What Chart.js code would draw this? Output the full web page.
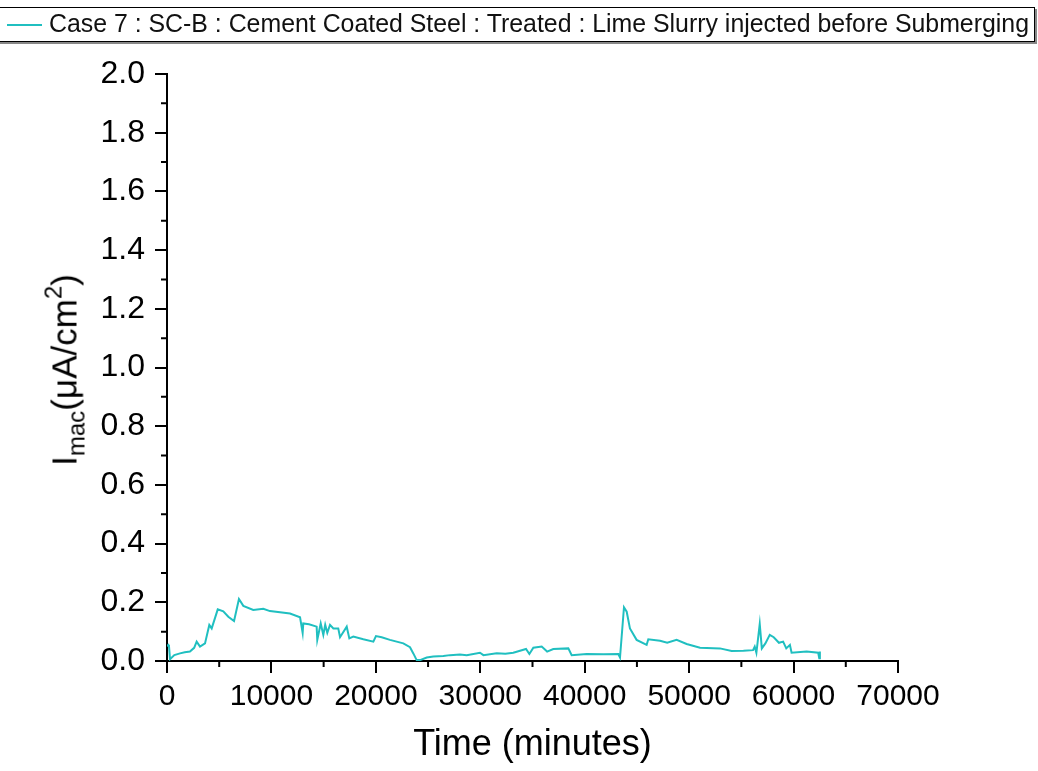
<!DOCTYPE html>
<html>
<head>
<meta charset="utf-8">
<script src="https://cdn.jsdelivr.net/npm/chart.js@4"></script>
<style>
  body { margin: 0; background: #fff; font-family: "Liberation Sans", Arial, sans-serif; }
  #wrap { position: relative; width: 1038px; height: 771px; overflow: hidden; }
  #chart { position: absolute; left: 0; top: 0; }
  #legend {
    position: absolute; left: -10px; top: 7px; width: 1043px; height: 33px;
    border: 1px solid #000; box-shadow: 2px 2px 0 #888; background: #fff;
    white-space: nowrap;
  }
  #legend .swatch { position: absolute; left: 16px; top: 16px; width: 35px; height: 2px; background: #20BFC0; }
  #legend .text { position: absolute; left: 58px; top: 1px; font-size: 25px; color: #111; transform-origin: 0 0; }
  #ytitle {
    position: absolute; left: 65px; top: 370px; font-size: 35px; color: #000;
    transform: translate(-50%, -50%) rotate(-90deg); white-space: nowrap;
  }
  #ytitle sub { font-size: 24px; vertical-align: -8px; }
  #ytitle sup { font-size: 24px; vertical-align: 15px; }
</style>
</head>
<body>
<div id="wrap">
  <canvas id="chart" width="1038" height="771"></canvas>
  <div id="legend"><div class="swatch"></div><div class="text" id="legendText">Case 7 : SC-B : Cement Coated Steel : Treated : Lime Slurry injected before Submerging</div></div>
  <div id="ytitle">I<sub>mac</sub>(μA/cm<sup>2</sup>)</div>
</div>
<script>
// time in minutes, current in uA/cm2
const timeMin = [0, 120, 190, 290, 700, 1245, 1700, 2200, 2600, 2840, 3160, 3640, 4050, 4280, 4860, 5390, 5870, 6420, 6890, 7310,
  8260, 9220, 9860, 11780, 12740, 12990, 13050, 13600, 14330, 14390, 14720, 14970, 15150, 15350, 15610, 15930,
  16400, 16570, 17210, 17460, 17840, 18800, 19760, 20010, 20560, 21350, 22630, 23270, 23600, 23910, 24230, 24870,
  25500, 26460, 27100, 28050, 28700, 29970, 30300, 31570, 32400, 33160, 34380, 34700, 35080, 35880, 36400, 36990,
  38430, 38750, 40190, 41800, 43220, 43380, 43760, 44020, 44330, 44970, 45930, 46090, 47210, 47900, 48800, 49760,
  51040, 52950, 54070, 55200, 56120, 56280, 56440, 56760, 56960, 57300, 57720, 58100, 58600, 59000, 59300, 59650,
  59810, 61250, 62360, 62460, 62520];
const currentUA = [0.05, 0.055, 0.051, 0.006, 0.02, 0.026, 0.03, 0.032, 0.045, 0.066, 0.049, 0.06, 0.123, 0.111, 0.176, 0.169, 0.151, 0.136, 0.211, 0.188,
  0.174, 0.178, 0.170, 0.162, 0.149, 0.096, 0.128, 0.125, 0.117, 0.072, 0.128, 0.089, 0.123, 0.096, 0.123, 0.111,
  0.111, 0.081, 0.117, 0.077, 0.083, 0.074, 0.066, 0.085, 0.081, 0.072, 0.060, 0.047, 0.025, 0.003, 0.003, 0.012,
  0.015, 0.017, 0.02, 0.022, 0.02, 0.028, 0.02, 0.026, 0.025, 0.028, 0.041, 0.024, 0.045, 0.049, 0.032, 0.041,
  0.043, 0.02, 0.024, 0.023, 0.024, 0.012, 0.183, 0.168, 0.111, 0.072, 0.055, 0.074, 0.069, 0.062, 0.072, 0.058,
  0.045, 0.043, 0.034, 0.035, 0.037, 0.049, 0.028, 0.126, 0.043, 0.06, 0.089, 0.081, 0.062, 0.066, 0.043, 0.055,
  0.028, 0.032, 0.028, 0.009, 0.032];
const seriesLabel = 'Case 7 : SC-B : Cement Coated Steel : Treated : Lime Slurry injected before Submerging';
const xTickValues = [0, 10000, 20000, 30000, 40000, 50000, 60000, 70000];
const yTickValues = [0.0, 0.2, 0.4, 0.6, 0.8, 1.0, 1.2, 1.4, 1.6, 1.8, 2.0];

// squeeze legend text to fit its box
const lt = document.getElementById('legendText');
const want = 980;
const have = lt.getBoundingClientRect().width;
lt.style.transform = 'scaleX(' + (want / have) + ')';

const points = timeMin.map((t, i) => ({ x: t, y: currentUA[i] }));

const minorTicks = {
  id: 'minorTicks',
  afterDraw(chart) {
    const ctx = chart.ctx;
    const xs = chart.scales.x, ys = chart.scales.y;
    ctx.save();
    ctx.strokeStyle = '#000';
    ctx.lineWidth = 2;
    ctx.beginPath();
    for (let v = 5000; v < 70000; v += 10000) {
      const px = xs.getPixelForValue(v);
      ctx.moveTo(px, chart.chartArea.bottom);
      ctx.lineTo(px, chart.chartArea.bottom + 6);
    }
    for (let v = 0.1; v < 2.0; v += 0.2) {
      const py = ys.getPixelForValue(v);
      ctx.moveTo(chart.chartArea.left, py);
      ctx.lineTo(chart.chartArea.left - 6, py);
    }
    ctx.stroke();
    ctx.restore();
  }
};

new Chart(document.getElementById('chart').getContext('2d'), {
  type: 'line',
  data: {
    datasets: [{
      label: seriesLabel,
      data: points,
      borderColor: '#20BFC0',
      borderWidth: 2,
      pointRadius: 0,
      tension: 0,
      fill: false
    }]
  },
  options: {
    responsive: false,
    animation: false,
    layout: { padding: { top: 74, right: 140, left: 0, bottom: 0 } },
    plugins: { legend: { display: false }, tooltip: { enabled: false } },
    scales: {
      x: {
        type: 'linear',
        min: 0, max: 70000,
        afterBuildTicks: (s) => { s.ticks = xTickValues.map(v => ({ value: v })); },
        afterFit: (s) => { s.height = 110; },
        ticks: { color: '#000', font: { family: 'Liberation Sans', size: 30 }, padding: 6, maxRotation: 0, autoSkip: false, callback: (v) => String(v) },
        grid: { drawOnChartArea: false, drawTicks: true, tickLength: 12, color: '#000', lineWidth: 2 },
        border: { display: true, color: '#000', width: 2 },
        title: { display: true, text: 'Time (minutes)', color: '#000', font: { family: 'Liberation Sans', size: 36 }, padding: { top: 13 } }
      },
      y: {
        type: 'linear',
        min: 0, max: 2.0,
        afterBuildTicks: (s) => { s.ticks = yTickValues.map(v => ({ value: v })); },
        afterFit: (s) => { s.width = 167; },
        ticks: { color: '#000', font: { family: 'Liberation Sans', size: 32 }, padding: 10, callback: (v) => v.toFixed(1) },
        grid: { drawOnChartArea: false, drawTicks: true, tickLength: 12, color: '#000', lineWidth: 2 },
        border: { display: true, color: '#000', width: 2 }
      }
    }
  },
  plugins: [minorTicks]
});
</script>
</body>
</html>
